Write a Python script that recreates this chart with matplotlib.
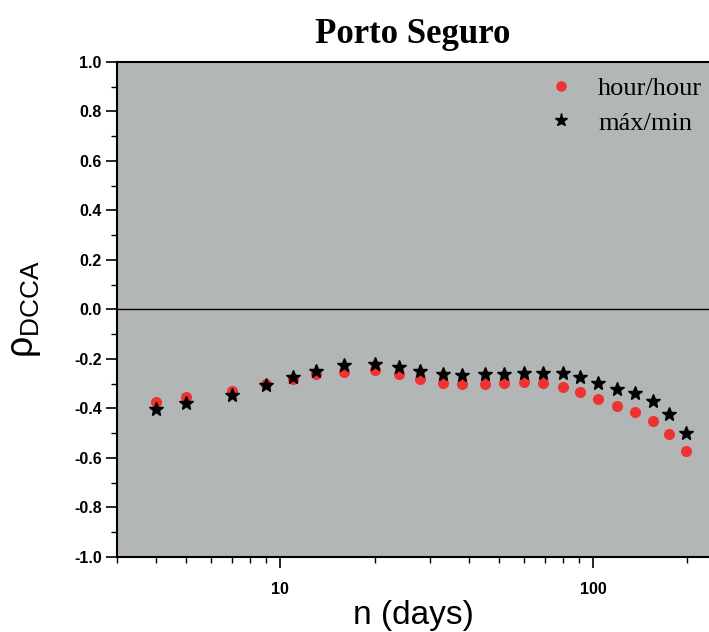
import numpy as np
import matplotlib.pyplot as plt
from matplotlib.ticker import LogLocator, MultipleLocator, FixedLocator, NullFormatter

# Data
n_days = [4, 5, 7, 9, 11, 13, 16, 20, 24, 28, 33, 38, 45, 52, 60, 69, 80, 91,
          104, 119, 136, 155, 175, 199]
rho_hour = [-0.375, -0.355, -0.329, -0.302, -0.282, -0.262, -0.251, -0.244,
            -0.261, -0.281, -0.296, -0.301, -0.301, -0.296, -0.294, -0.298,
            -0.312, -0.332, -0.363, -0.390, -0.413, -0.450, -0.503, -0.572]
rho_maxmin = [-0.402, -0.379, -0.345, -0.306, -0.274, -0.247, -0.225, -0.219,
              -0.231, -0.247, -0.262, -0.266, -0.262, -0.259, -0.257, -0.255,
              -0.258, -0.274, -0.298, -0.320, -0.336, -0.371, -0.422, -0.498]
labels = ["hour/hour", "máx/min"]

plt.rcParams['mathtext.fontset'] = 'custom'
plt.rcParams['mathtext.rm'] = 'Liberation Sans'
plt.rcParams['mathtext.it'] = 'Liberation Sans'

fig = plt.figure(figsize=(7.09, 6.32), dpi=100)
ax = fig.add_axes([0.165, 0.1187, 0.835, 0.7832])
ax.set_facecolor('#b3b6b7')

ax.axhline(0, color='black', lw=1.0, zorder=1)
ax.plot(n_days, rho_hour, 'o', color='#ee3333', ms=8, mec='none',
        label=labels[0], zorder=3)
ax.plot(n_days, rho_maxmin, '*', color='black', ms=10, mec='black',
        label=labels[1], zorder=4)

ax.set_xscale('log')
ax.set_xlim(3, 235)
ax.set_ylim(-1.0, 1.0)

ax.xaxis.set_major_locator(FixedLocator([10, 100]))
ax.xaxis.set_minor_locator(LogLocator(base=10, subs=np.arange(2, 10)))
ax.xaxis.set_minor_formatter(NullFormatter())
ax.set_xticklabels(['10', '100'])
ax.yaxis.set_major_locator(MultipleLocator(0.2))
ax.yaxis.set_minor_locator(MultipleLocator(0.1))
ax.yaxis.set_major_formatter(plt.FuncFormatter(lambda v, p: f"{v:.1f}"))

ax.tick_params(which='major', direction='out', length=8, width=1.2,
               labelsize=11.5, pad=3)
ax.tick_params(which='minor', direction='out', length=4, width=1.0)
for lab in ax.get_xticklabels() + ax.get_yticklabels():
    lab.set_fontweight('bold')
    lab.set_family('Liberation Sans')
ax.tick_params(axis='x', which='major', pad=10)

for s in ['left', 'bottom', 'top']:
    ax.spines[s].set_linewidth(1.5)
ax.spines['right'].set_visible(False)

ax.set_xlabel('n (days)', fontsize=24, family='Liberation Sans', labelpad=2)
ax.set_ylabel(r'$\rho_{\mathrm{DCCA}}$', fontsize=27, labelpad=22)
ax.set_title('Porto Seguro', fontsize=25, fontweight='bold',
             family='Liberation Serif', pad=14)

leg = ax.legend(loc='upper right', bbox_to_anchor=(1.013, 1.0), frameon=False,
                prop={'family': 'Liberation Serif', 'size': 19},
                handletextpad=0.6, labelspacing=0.42, markerscale=0.95,
                handlelength=1.6, borderaxespad=0.1, borderpad=0.45)

fig.savefig('out.png', dpi=100)
